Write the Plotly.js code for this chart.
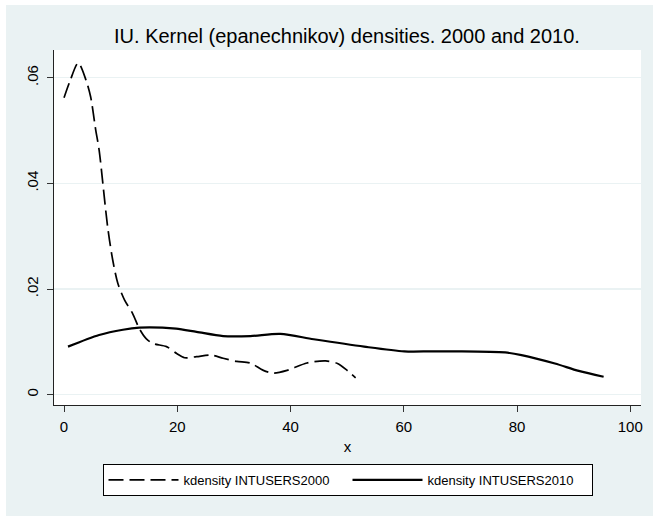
<!DOCTYPE html>
<html>
<head>
<meta charset="utf-8">
<script src="https://cdn.plot.ly/plotly-3.0.1.min.js"></script>
<style>
html,body{margin:0;padding:0;background:#ffffff;}
#chart{position:absolute;left:6px;top:5px;width:647px;height:511px;}
</style>
</head>
<body>
<div id="chart"></div>
<script>
// kdensity INTUSERS2000 (dashed)
const x2000 = [0, 1.0, 2.5, 3.9, 4.7, 5.6, 6.2, 7.7, 8.6, 9.5, 10.7, 12.1, 13.3, 14.5, 15.7, 18.1, 19.9, 21.3, 23.4, 26, 28.1, 30.5, 32.9, 35.2, 37, 39.4, 42.9, 46.2, 48.3, 50, 51.5];
const y2000 = [0.0562, 0.0592, 0.0628, 0.0595, 0.0564, 0.0501, 0.0463, 0.0318, 0.0255, 0.0211, 0.0179, 0.0154, 0.0125, 0.0106, 0.0097, 0.0091, 0.0078, 0.0070, 0.0072, 0.0075, 0.0069, 0.0063, 0.0060, 0.0046, 0.0041, 0.0046, 0.0060, 0.0064, 0.0059, 0.0046, 0.0032];
// kdensity INTUSERS2010 (solid)
const x2010 = [0.7, 6.2, 10.4, 13.3, 17.4, 19.8, 23.4, 28.1, 32.9, 38.2, 44.1, 53, 60.1, 64.8, 69, 77.9, 80.8, 86.7, 90.9, 95.3];
const y2010 = [0.0091, 0.0113, 0.0123, 0.0127, 0.0127, 0.0125, 0.0119, 0.0111, 0.0111, 0.0115, 0.0105, 0.0091, 0.0082, 0.0082, 0.0082, 0.0080, 0.0075, 0.0059, 0.0045, 0.0034];
const seriesNames = ["kdensity INTUSERS2000", "kdensity INTUSERS2010"];
const xTicks = [0, 20, 40, 60, 80, 100];
const xTickLabels = ["0", "20", "40", "60", "80", "100"];
const yTicks = [0, 0.02, 0.04, 0.06];
const yTickLabels = ["0", ".02", ".04", ".06"];
const titleText = "IU. Kernel (epanechnikov) densities. 2000 and 2010.";

const FONT = "Liberation Sans, Arial, Helvetica, sans-serif";
const BG = "rgb(234,242,243)";

const traces = [
  {x: x2000, y: y2000, name: seriesNames[0], type: "scatter", mode: "lines",
   line: {color: "#000000", width: 1.7, dash: "15px,6px", shape: "spline", smoothing: 0.8}},
  {x: x2010, y: y2010, name: seriesNames[1], type: "scatter", mode: "lines",
   line: {color: "#000000", width: 2.2, shape: "spline", smoothing: 0.8}}
];

const layout = {
  width: 647, height: 511,
  paper_bgcolor: BG, plot_bgcolor: "#ffffff",
  margin: {l: 48, r: 12, t: 45, b: 111, pad: 0},
  font: {family: FONT, color: "#000000", size: 15},
  title: {text: titleText, font: {family: FONT, size: 20, color: "#000000"},
          x: 0.527, xanchor: "center", y: 0.94, yanchor: "middle", yref: "container"},
  showlegend: true,
  legend: {orientation: "h", x: 0.5, xanchor: "center", y: -0.166, yanchor: "top",
           bgcolor: "#ffffff", bordercolor: "#000000", borderwidth: 1,
           font: {family: FONT, size: 13, color: "#000000"},
           itemwidth: 70,
           entrywidth: 159, entrywidthmode: "pixels", valign: "middle"},
  xaxis: {range: [-1.77, 101.9], tickmode: "array", tickvals: xTicks, ticktext: xTickLabels,
          ticks: "outside", ticklen: 6, tickwidth: 1, tickcolor: "#333333",
          ticklabelstandoff: 2,
          showline: true, linecolor: "#222222", linewidth: 1, mirror: false,
          showgrid: false, zeroline: false,
          tickfont: {family: FONT, size: 15, color: "#000000"},
          title: {text: "x", font: {family: FONT, size: 15, color: "#000000"}, standoff: 7}},
  yaxis: {range: [-0.00195, 0.06525], tickmode: "array", tickvals: yTicks, ticktext: yTickLabels,
          ticks: "outside", ticklen: 6, tickwidth: 1, tickcolor: "#333333", tickangle: -90,
          ticklabelstandoff: 3,
          showline: true, linecolor: "#222222", linewidth: 1, mirror: false,
          showgrid: true, gridcolor: BG, gridwidth: 1.5, zeroline: false,
          tickfont: {family: FONT, size: 15, color: "#000000"}}
};

Plotly.newPlot("chart", traces, layout, {displayModeBar: false, staticPlot: true});
</script>
</body>
</html>
